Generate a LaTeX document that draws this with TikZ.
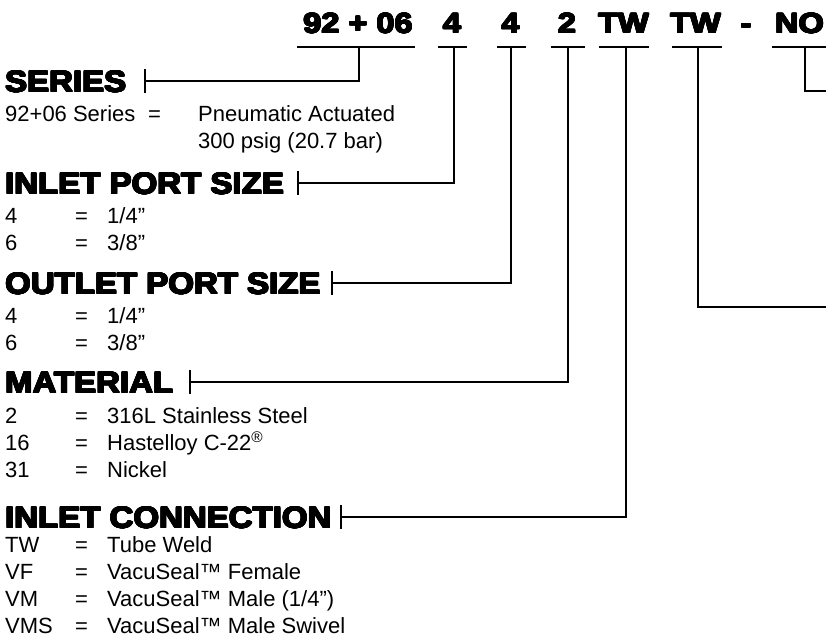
\documentclass[tikz,border=0pt]{standalone}
\usepackage{fontspec}
\usepackage{contour}
\contourlength{0.7pt}
\setmainfont{Liberation Sans}
\newfontfamily\headfont{Liberation Sans Bold}[FakeStretch=1.1]
\newfontfamily\codefont{Liberation Sans Bold}[FakeStretch=1.16]
\newcommand{\heavy}[1]{\contour{black}{#1}}
\tikzset{
  codetext/.style={font=\codefont\fontsize{28}{30}\selectfont, inner sep=0pt, anchor=base},
  headtext/.style={font=\headfont\fontsize{30}{34}\selectfont, inner sep=0pt, anchor=base west},
  entrytext/.style={font=\fontsize{22}{26}\selectfont, inner sep=0pt, anchor=base west},
  leader/.style={line width=2.2pt},
}

\begin{document}
\begin{tikzpicture}[x=1pt, y=-1pt]
    \useasboundingbox (0,0) rectangle (826,643);

    % Ordering code
    \foreach \nm/\cx/\txt in {series/358/92 + 06, inport/452/4, outport/510.5/4, mater/567/2,
                              inconn/623.5/TW, outconn/695.5/TW, dash/746/-, valve/799.5/NO}
        \node[codetext] (\nm) at (\cx,33) {\heavy{\txt}};

    % Bars under the code, with drop points
    \foreach \nm/\a/\b/\dx in {series/297/415/359, inport/438/467/454, outport/497/526/511,
                               mater/551/585/568, inconn/599/649/626, outconn/672/722/698,
                               valve/772/826/805} {
        \draw[leader] (\a,47) -- (\b,47);
        \coordinate (\nm-drop) at (\dx,47);
    }

    % Headings and ticks
    \foreach \nm/\y/\tx/\txt in {series/81/145/SERIES, inport/183/298/INLET PORT SIZE,
                                 outport/283/332/OUTLET PORT SIZE, mater/382/190/MATERIAL,
                                 inconn/517/341/INLET CONNECTION} {
        \node[headtext] (\nm-head) at (5,\y+11) {\heavy{\txt}};
        \coordinate (\nm-tick) at (\tx,\y);
        \draw[leader] (\tx,\y-12) -- (\tx,\y+12);
    }

    % Leaders
    \foreach \nm in {series, inport, outport, mater, inconn}
        \draw[leader] (\nm-drop) |- (\nm-tick);
    \coordinate (outconn-end) at (826,307);
    \coordinate (valve-end) at (826,91);
    \draw[leader] (outconn-drop) |- (outconn-end);
    \draw[leader] (valve-drop) |- (valve-end);

    % Series entry
    \node[entrytext] (series-a) at (5,121) {92+06 Series};
    \node[entrytext] (series-eq) at (148,121) {=};
    \node[entrytext] (series-b) at (198,121) {Pneumatic Actuated};
    \node[entrytext] (series-c) at (198,148) {300 psig (20.7 bar)};

    % Option rows
    \foreach \nm/\y/\cd/\val in {ip1/223/4/{1/4”}, ip2/250/6/{3/8”},
                                 op1/323/4/{1/4”}, op2/350/6/{3/8”},
                                 mt1/423/2/316L Stainless Steel,
                                 mt2/450/16/{Hastelloy C-22\textsuperscript{®}},
                                 mt3/477/31/Nickel,
                                 ic1/552/TW/Tube Weld, ic2/579/VF/VacuSeal™ Female,
                                 ic3/606/VM/{VacuSeal™ Male (1/4”)},
                                 ic4/633/VMS/VacuSeal™ Male Swivel} {
        \node[entrytext] (\nm-code) at (5,\y) {\cd};
        \node[entrytext] (\nm-eq) at (75,\y) {=};
        \node[entrytext] (\nm-val) at (107,\y) {\val};
    }
\end{tikzpicture}
\end{document}
